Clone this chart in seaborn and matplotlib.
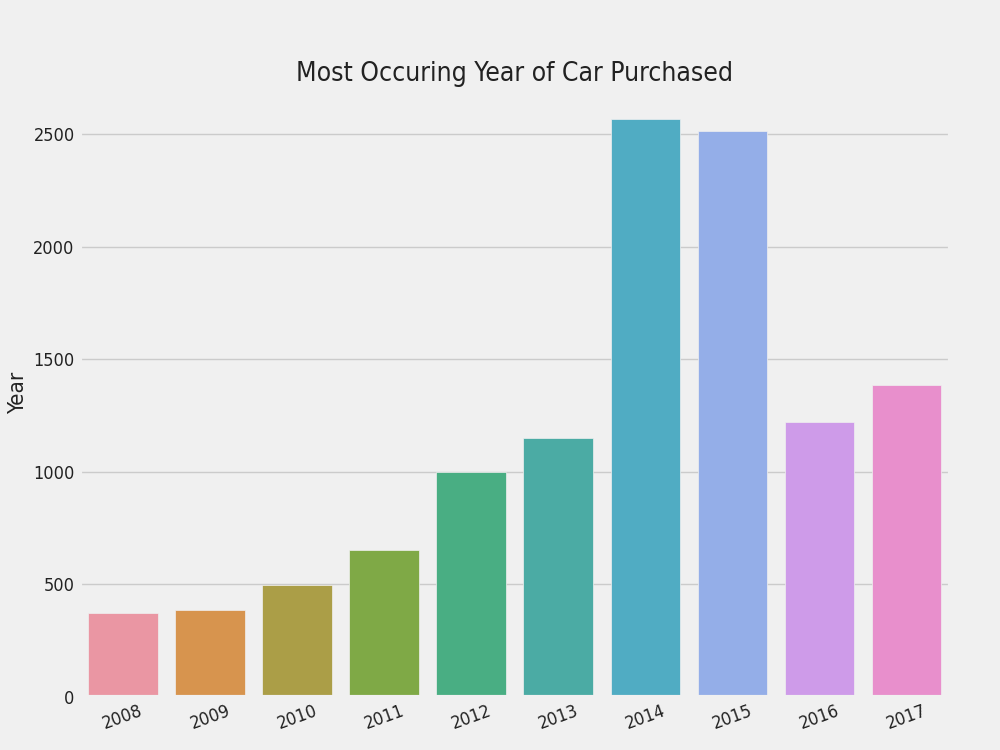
import matplotlib
matplotlib.use("Agg")
import matplotlib.pyplot as plt
import seaborn as sns
import pandas as pd

years = ["2008", "2009", "2010", "2011", "2012", "2013", "2014", "2015", "2016", "2017"]
counts = [373, 386, 497, 653, 999, 1150, 2567, 2514, 1221, 1387]

plt.style.use("fivethirtyeight")
plt.rcParams['font.family'] = ['DejaVu Sans']
plt.rcParams['font.stretch'] = 'condensed'

df = pd.DataFrame({"year": years, "count": counts})
pal = sns.husl_palette(len(years), l=0.7)

fig = plt.figure(figsize=(10, 7.5), dpi=100)
ax = fig.add_axes([0.0795, 0.0707, 0.8705, 0.81])
sns.barplot(data=df, x="year", y="count", hue="year", palette=pal,
            legend=False, ax=ax, edgecolor="#f0f0f0", linewidth=0.5)
ax.set_xlim(-0.5, 9.5)
ax.set_ylim(0, 2700)
ax.set_title("Most Occuring Year of Car Purchased", fontsize=19, pad=6,
             color="#222222")
ax.set_ylabel("Year", fontsize=16, color="#222222")
ax.set_xlabel("")
ax.grid(axis="x", visible=False)
ax.tick_params(axis="both", labelsize=13, labelcolor="#222222")
ax.set_yticks([0, 500, 1000, 1500, 2000, 2500])
for lbl in ax.get_xticklabels():
    lbl.set_rotation(20)
fig.savefig("out.png", dpi=100, facecolor="#f0f0f0")
